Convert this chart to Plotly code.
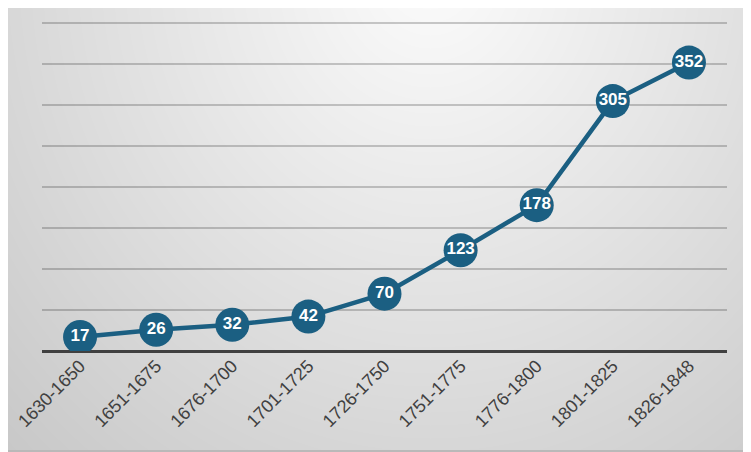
import base64
import struct
import zlib

import numpy as np
import plotly.graph_objects as go

periods = ["1630-1650", "1651-1675", "1676-1700", "1701-1725", "1726-1750",
           "1751-1775", "1776-1800", "1801-1825", "1826-1848"]
counts = [17, 26, 32, 42, 70, 123, 178, 305, 352]

# page body has an 8px margin, so the figure is a bit smaller than the window
OFF = 8
W, H = 751 - OFF, 452 - OFF
ML, MR, MT, MB = 42 - OFF, 24, 12, 101


def gradient_png(w, h):
    # radial grey background, light near the top middle
    xx, yy = np.meshgrid(np.arange(w) + OFF, np.arange(h) + OFF)
    d = np.sqrt(((xx - 430) / 470.0) ** 2 + ((yy + 30) / 520.0) ** 2)
    v = np.clip(252 - 40 * d, 196, 252).astype(np.uint8)
    v[-2:, :] = 185
    v[:, -2:] = 185
    raw = b"".join(b"\x00" + bytes(np.repeat(row, 3)) for row in v)

    def chunk(tag, data):
        c = struct.pack(">I", len(data)) + tag + data
        return c + struct.pack(">I", zlib.crc32(tag + data) & 0xffffffff)

    png = b"\x89PNG\r\n\x1a\n"
    png += chunk(b"IHDR", struct.pack(">IIBBBBB", w, h, 8, 2, 0, 0, 0))
    png += chunk(b"IDAT", zlib.compress(raw, 9))
    png += chunk(b"IEND", b"")
    return "data:image/png;base64," + base64.b64encode(png).decode()


pw = W - ML - MR
ph = H - MT - MB

fig = go.Figure()
fig.add_trace(go.Scatter(
    x=periods,
    y=counts,
    mode="lines+markers+text",
    text=[str(c) for c in counts],
    textposition="middle center",
    textfont=dict(family="Liberation Sans, Arial", size=17, color="white", weight="bold"),
    line=dict(color="#1b5f82", width=4.5),
    marker=dict(size=34, color="#1b5f82"),
    hoverinfo="x+y",
))

fig.update_layout(
    width=W,
    height=H,
    margin=dict(l=ML, r=MR, t=MT, b=MB),
    paper_bgcolor="rgba(0,0,0,0)",
    plot_bgcolor="rgba(0,0,0,0)",
    showlegend=False,
    font=dict(family="Liberation Sans, Arial", color="#404040"),
    images=[dict(
        source=gradient_png(W, H),
        xref="paper", yref="paper",
        x=-ML / pw, y=1 + MT / ph,
        sizex=W / pw, sizey=H / ph,
        xanchor="left", yanchor="top",
        sizing="stretch",
        layer="below",
    )],
    xaxis=dict(
        tickangle=-45,
        tickfont=dict(size=18, color="#404040"),
        showgrid=False,
        showline=False,
        ticks="",
        range=[-0.5, len(periods) - 0.5],
        automargin=False,
    ),
    yaxis=dict(
        range=[0, 404],
        dtick=50,
        showticklabels=False,
        gridcolor="rgba(0,0,0,0.2)",
        gridwidth=1.5,
        zeroline=True,
        zerolinecolor="#404040",
        zerolinewidth=3,
        showline=False,
        ticks="",
    ),
)

fig.write_html("out.html")
